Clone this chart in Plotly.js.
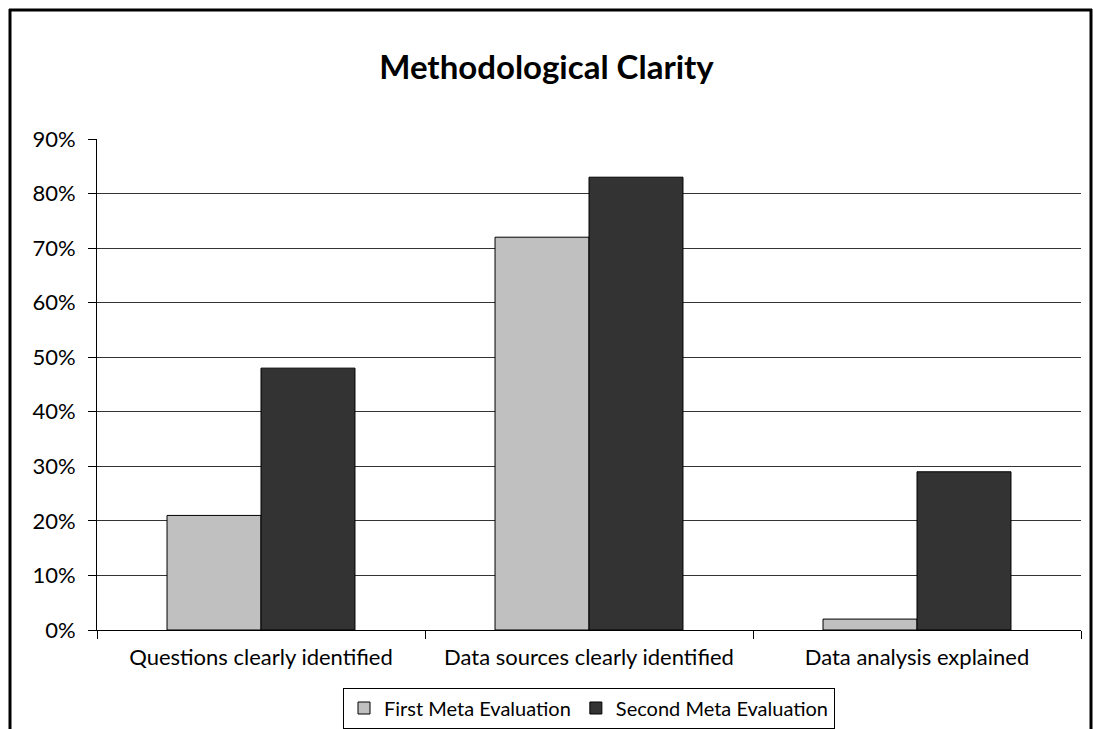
<!DOCTYPE html>
<html>
<head>
<meta charset="utf-8">
<script src="https://cdn.plot.ly/plotly-3.0.1.min.js"></script>
<style>html,body{margin:0;padding:0;background:#fff;}#chart{width:1093px;height:729px;}</style>
</head>
<body>
<div id="chart"></div>
<script>
const categories = ["Questions clearly identified", "Data sources clearly identified", "Data analysis explained"];
const seriesNames = ["First Meta Evaluation", "Second Meta Evaluation"];
const firstMeta = [0.21, 0.72, 0.02];
const secondMeta = [0.48, 0.83, 0.29];
const tickVals = [0, 0.1, 0.2, 0.3, 0.4, 0.5, 0.6, 0.7, 0.8, 0.9];
const titleText = "Methodological Clarity";

const FONT = "Lato, 'Open Sans', sans-serif";

const traces = [
  {type: "bar", name: seriesNames[0], x: categories, y: firstMeta,
   marker: {color: "#c0c0c0", line: {color: "#000", width: 1}}},
  {type: "bar", name: seriesNames[1], x: categories, y: secondMeta,
   marker: {color: "#333333", line: {color: "#000", width: 1}}}
];

const L = 97, R = 12, T = 139, B = 99, W = 1093, H = 729;
const pw = W - L - R, ph = H - T - B;
const px = v => (v - L) / pw;
const py = v => (H - B - v) / ph;

const layout = {
  width: W, height: H,
  margin: {l: L, r: R, t: T, b: B, pad: 0, autoexpand: false},
  paper_bgcolor: "#fff", plot_bgcolor: "#fff",
  font: {family: FONT, color: "#000", size: 22},
  title: {text: "<b>" + titleText + "</b>", font: {family: FONT, size: 33, color: "#000"},
          x: 0.5, xanchor: "center", y: 1 - 67 / H, yanchor: "middle"},
  barmode: "group", bargap: 0.427, bargroupgap: 0,
  showlegend: true,
  legend: {orientation: "h", x: 0.5, xanchor: "center", y: py(708), yanchor: "middle",
           bordercolor: "#000", borderwidth: 1, font: {family: FONT, size: 20, color: "#000"},
           itemwidth: 30, traceorder: "normal", tracegroupgap: 0},
  xaxis: {type: "category", tickson: "boundaries", ticks: "outside", ticklen: 8, tickcolor: "#000",
          showline: true, linecolor: "#000", linewidth: 1, showgrid: false, ticklabelstandoff: 8,
          tickfont: {family: FONT, size: 22, color: "#000"}, fixedrange: true},
  yaxis: {range: [0, 0.9], tickvals: tickVals, tickformat: ".0%", ticks: "outside", ticklen: 8,
          tickcolor: "#000", showline: true, linecolor: "#000", linewidth: 1, ticklabelstandoff: 8,
          showgrid: true, gridcolor: "#333", gridwidth: 1, zeroline: false,
          tickfont: {family: FONT, size: 22, color: "#000"}, fixedrange: true},
  shapes: [
    {type: "line", xref: "paper", yref: "paper", x0: px(10), x1: px(10), y0: py(9), y1: py(740), line: {color: "#000", width: 3}},
    {type: "line", xref: "paper", yref: "paper", x0: px(9), x1: px(1092), y0: py(10), y1: py(10), line: {color: "#000", width: 3}},
    {type: "line", xref: "paper", yref: "paper", x0: px(1091), x1: px(1091), y0: py(9), y1: py(740), line: {color: "#000", width: 3}}
  ]
};

Plotly.newPlot("chart", traces, layout, {displayModeBar: false, staticPlot: true});
</script>
</body>
</html>
